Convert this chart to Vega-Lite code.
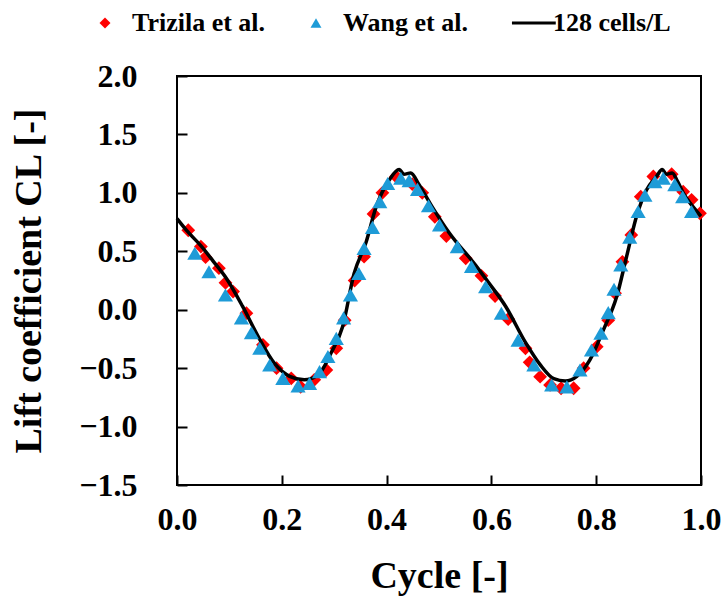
{
  "$schema": "https://vega.github.io/schema/vega-lite/v6.json",
  "width": 524,
  "height": 409,
  "autosize": {"type": "none"},
  "padding": {"left": 177, "top": 76, "right": 20, "bottom": 116},
  "background": "white",
  "config": {
    "view": {"stroke": "black", "strokeWidth": 2},
    "font": "Liberation Serif",
    "axis": {
      "grid": false,
      "domain": false,
      "offset": -10,
      "tickColor": "black",
      "tickWidth": 2,
      "tickSize": 10,
      "labelFlush": false,
      "labelFont": "Liberation Serif",
      "labelFontWeight": "bold",
      "labelFontSize": 32,
      "labelColor": "black",
      "titleFont": "Liberation Serif",
      "titleFontWeight": "bold",
      "titleFontSize": 38,
      "titleColor": "black"
    }
  },
  "datasets": {
    "pts": [
      {"series": "Trizila et al.", "cycle": 0.0215, "cl": 0.68},
      {"series": "Trizila et al.", "cycle": 0.0456, "cl": 0.54},
      {"series": "Trizila et al.", "cycle": 0.0545, "cl": 0.45},
      {"series": "Trizila et al.", "cycle": 0.080, "cl": 0.355},
      {"series": "Trizila et al.", "cycle": 0.0925, "cl": 0.23},
      {"series": "Trizila et al.", "cycle": 0.107, "cl": 0.155},
      {"series": "Trizila et al.", "cycle": 0.1325, "cl": -0.03},
      {"series": "Trizila et al.", "cycle": 0.164, "cl": -0.30},
      {"series": "Trizila et al.", "cycle": 0.19, "cl": -0.50},
      {"series": "Trizila et al.", "cycle": 0.218, "cl": -0.587},
      {"series": "Trizila et al.", "cycle": 0.236, "cl": -0.66},
      {"series": "Trizila et al.", "cycle": 0.262, "cl": -0.60},
      {"series": "Trizila et al.", "cycle": 0.285, "cl": -0.516},
      {"series": "Trizila et al.", "cycle": 0.304, "cl": -0.33},
      {"series": "Trizila et al.", "cycle": 0.32, "cl": -0.09},
      {"series": "Trizila et al.", "cycle": 0.339, "cl": 0.25},
      {"series": "Trizila et al.", "cycle": 0.357, "cl": 0.454},
      {"series": "Trizila et al.", "cycle": 0.375, "cl": 0.82},
      {"series": "Trizila et al.", "cycle": 0.392, "cl": 1.0},
      {"series": "Trizila et al.", "cycle": 0.418, "cl": 1.14},
      {"series": "Trizila et al.", "cycle": 0.449, "cl": 1.075},
      {"series": "Trizila et al.", "cycle": 0.468, "cl": 1.0},
      {"series": "Trizila et al.", "cycle": 0.492, "cl": 0.795},
      {"series": "Trizila et al.", "cycle": 0.514, "cl": 0.63},
      {"series": "Trizila et al.", "cycle": 0.551, "cl": 0.44},
      {"series": "Trizila et al.", "cycle": 0.581, "cl": 0.29},
      {"series": "Trizila et al.", "cycle": 0.607, "cl": 0.117},
      {"series": "Trizila et al.", "cycle": 0.632, "cl": -0.08},
      {"series": "Trizila et al.", "cycle": 0.665, "cl": -0.33},
      {"series": "Trizila et al.", "cycle": 0.673, "cl": -0.45},
      {"series": "Trizila et al.", "cycle": 0.693, "cl": -0.573},
      {"series": "Trizila et al.", "cycle": 0.712, "cl": -0.644},
      {"series": "Trizila et al.", "cycle": 0.733, "cl": -0.672},
      {"series": "Trizila et al.", "cycle": 0.757, "cl": -0.672},
      {"series": "Trizila et al.", "cycle": 0.776, "cl": -0.50},
      {"series": "Trizila et al.", "cycle": 0.801, "cl": -0.316},
      {"series": "Trizila et al.", "cycle": 0.823, "cl": -0.09},
      {"series": "Trizila et al.", "cycle": 0.836, "cl": 0.14},
      {"series": "Trizila et al.", "cycle": 0.85, "cl": 0.41},
      {"series": "Trizila et al.", "cycle": 0.867, "cl": 0.64},
      {"series": "Trizila et al.", "cycle": 0.885, "cl": 0.967},
      {"series": "Trizila et al.", "cycle": 0.909, "cl": 1.14},
      {"series": "Trizila et al.", "cycle": 0.944, "cl": 1.16},
      {"series": "Trizila et al.", "cycle": 0.966, "cl": 1.01},
      {"series": "Trizila et al.", "cycle": 0.982, "cl": 0.94},
      {"series": "Trizila et al.", "cycle": 0.998, "cl": 0.825},
      {"series": "Wang et al.", "cycle": 0.034, "cl": 0.483},
      {"series": "Wang et al.", "cycle": 0.061, "cl": 0.325},
      {"series": "Wang et al.", "cycle": 0.0925, "cl": 0.126},
      {"series": "Wang et al.", "cycle": 0.123, "cl": -0.07},
      {"series": "Wang et al.", "cycle": 0.142, "cl": -0.197},
      {"series": "Wang et al.", "cycle": 0.158, "cl": -0.33},
      {"series": "Wang et al.", "cycle": 0.177, "cl": -0.473},
      {"series": "Wang et al.", "cycle": 0.202, "cl": -0.587},
      {"series": "Wang et al.", "cycle": 0.231, "cl": -0.653},
      {"series": "Wang et al.", "cycle": 0.253, "cl": -0.63},
      {"series": "Wang et al.", "cycle": 0.272, "cl": -0.53},
      {"series": "Wang et al.", "cycle": 0.288, "cl": -0.40},
      {"series": "Wang et al.", "cycle": 0.304, "cl": -0.245},
      {"series": "Wang et al.", "cycle": 0.318, "cl": -0.07},
      {"series": "Wang et al.", "cycle": 0.331, "cl": 0.126},
      {"series": "Wang et al.", "cycle": 0.347, "cl": 0.31},
      {"series": "Wang et al.", "cycle": 0.357, "cl": 0.525},
      {"series": "Wang et al.", "cycle": 0.373, "cl": 0.705},
      {"series": "Wang et al.", "cycle": 0.387, "cl": 0.925},
      {"series": "Wang et al.", "cycle": 0.402, "cl": 1.08},
      {"series": "Wang et al.", "cycle": 0.427, "cl": 1.125},
      {"series": "Wang et al.", "cycle": 0.443, "cl": 1.105},
      {"series": "Wang et al.", "cycle": 0.459, "cl": 1.03},
      {"series": "Wang et al.", "cycle": 0.48, "cl": 0.89},
      {"series": "Wang et al.", "cycle": 0.501, "cl": 0.725},
      {"series": "Wang et al.", "cycle": 0.535, "cl": 0.54},
      {"series": "Wang et al.", "cycle": 0.562, "cl": 0.37},
      {"series": "Wang et al.", "cycle": 0.589, "cl": 0.197},
      {"series": "Wang et al.", "cycle": 0.619, "cl": -0.03},
      {"series": "Wang et al.", "cycle": 0.651, "cl": -0.26},
      {"series": "Wang et al.", "cycle": 0.681, "cl": -0.473},
      {"series": "Wang et al.", "cycle": 0.715, "cl": -0.644},
      {"series": "Wang et al.", "cycle": 0.744, "cl": -0.66},
      {"series": "Wang et al.", "cycle": 0.769, "cl": -0.516},
      {"series": "Wang et al.", "cycle": 0.791, "cl": -0.345},
      {"series": "Wang et al.", "cycle": 0.809, "cl": -0.20},
      {"series": "Wang et al.", "cycle": 0.823, "cl": -0.025},
      {"series": "Wang et al.", "cycle": 0.834, "cl": 0.175},
      {"series": "Wang et al.", "cycle": 0.847, "cl": 0.383},
      {"series": "Wang et al.", "cycle": 0.864, "cl": 0.62},
      {"series": "Wang et al.", "cycle": 0.88, "cl": 0.84},
      {"series": "Wang et al.", "cycle": 0.893, "cl": 0.98},
      {"series": "Wang et al.", "cycle": 0.912, "cl": 1.095},
      {"series": "Wang et al.", "cycle": 0.928, "cl": 1.125},
      {"series": "Wang et al.", "cycle": 0.95, "cl": 1.07},
      {"series": "Wang et al.", "cycle": 0.965, "cl": 0.967},
      {"series": "Wang et al.", "cycle": 0.982, "cl": 0.84}
    ],
    "sim": [
      {"cycle": 0.0, "cl": 0.78},
      {"cycle": 0.02, "cl": 0.67},
      {"cycle": 0.045, "cl": 0.55},
      {"cycle": 0.07, "cl": 0.41},
      {"cycle": 0.0925, "cl": 0.28},
      {"cycle": 0.125, "cl": 0.03},
      {"cycle": 0.155, "cl": -0.23},
      {"cycle": 0.186, "cl": -0.46},
      {"cycle": 0.215, "cl": -0.57},
      {"cycle": 0.243, "cl": -0.6},
      {"cycle": 0.269, "cl": -0.56},
      {"cycle": 0.294, "cl": -0.37},
      {"cycle": 0.316, "cl": -0.145},
      {"cycle": 0.338, "cl": 0.31},
      {"cycle": 0.361, "cl": 0.58},
      {"cycle": 0.38, "cl": 0.88},
      {"cycle": 0.405, "cl": 1.11},
      {"cycle": 0.424, "cl": 1.2},
      {"cycle": 0.433, "cl": 1.16},
      {"cycle": 0.446, "cl": 1.17},
      {"cycle": 0.462, "cl": 1.07},
      {"cycle": 0.487, "cl": 0.88},
      {"cycle": 0.519, "cl": 0.66},
      {"cycle": 0.57, "cl": 0.38},
      {"cycle": 0.595, "cl": 0.23},
      {"cycle": 0.627, "cl": 0.03},
      {"cycle": 0.665, "cl": -0.28},
      {"cycle": 0.693, "cl": -0.47},
      {"cycle": 0.719, "cl": -0.59},
      {"cycle": 0.741, "cl": -0.61},
      {"cycle": 0.763, "cl": -0.57},
      {"cycle": 0.788, "cl": -0.43},
      {"cycle": 0.814, "cl": -0.17},
      {"cycle": 0.839, "cl": 0.11},
      {"cycle": 0.858, "cl": 0.455},
      {"cycle": 0.877, "cl": 0.8},
      {"cycle": 0.896, "cl": 1.025},
      {"cycle": 0.915, "cl": 1.14},
      {"cycle": 0.926, "cl": 1.2},
      {"cycle": 0.934, "cl": 1.16},
      {"cycle": 0.945, "cl": 1.17},
      {"cycle": 0.955, "cl": 1.1},
      {"cycle": 0.966, "cl": 1.0},
      {"cycle": 0.985, "cl": 0.88},
      {"cycle": 1.0, "cl": 0.8}
    ]
  },
  "encoding": {
    "x": {
      "field": "cycle", "type": "quantitative",
      "scale": {"domain": [0, 1], "nice": false, "zero": false},
      "axis": {"values": [0, 0.2, 0.4, 0.6, 0.8, 1.0], "format": ".1f", "title": "Cycle [-]", "labelPadding": 19, "titlePadding": 22}
    },
    "y": {
      "field": "cl", "type": "quantitative",
      "scale": {"domain": [-1.5, 2], "nice": false, "zero": false},
      "axis": {"values": [-1.5, -1, -0.5, 0, 0.5, 1, 1.5, 2], "format": ".1f", "title": "Lift coefficient CL [-]", "labelPadding": 40, "titlePadding": 30}
    }
  },
  "layer": [
    {
      "data": {"name": "pts"},
      "transform": [{"filter": "datum.series === 'Trizila et al.'"}],
      "mark": {"type": "point", "filled": true, "opacity": 1, "size": 190},
      "encoding": {
        "color": {
          "field": "series", "type": "nominal",
          "scale": {"domain": ["Trizila et al.", "Wang et al.", "128 cells/L"], "range": ["#ff0000", "#1e9bd7", "#000000"]},
          "legend": {
            "orient": "none", "direction": "horizontal", "legendX": -85, "legendY": -66,
            "title": null, "padding": 0, "columnPadding": 37, "symbolSize": 120,
            "labelFont": "Liberation Serif", "labelFontWeight": "bold", "labelFontSize": 26, "labelColor": "black", "labelOffset": 14, "labelLimit": 400,
            "symbolOpacity": 1,
            "encode": {
              "symbols": {"update": {
                "stroke": {"value": "black"},
                "strokeWidth": {"signal": "datum.value === '128 cells/L' ? 3 : 0"}
              }},
              "labels": {"update": {
                "dx": {"signal": "datum.value === '128 cells/L' ? 2 : 0"}
              }}
            }
          }
        },
        "shape": {
          "field": "series", "type": "nominal",
          "scale": {"domain": ["Trizila et al.", "Wang et al.", "128 cells/L"], "range": ["diamond", "triangle-up", "M -2.2 0 L 5.8 0"]}
        }
      }
    },
    {
      "data": {"name": "sim"},
      "mark": {"type": "line", "color": "black", "strokeWidth": 3.5, "interpolate": "monotone"},
      "encoding": {}
    },
    {
      "data": {"name": "pts"},
      "transform": [{"filter": "datum.series === 'Wang et al.'"}],
      "mark": {"type": "point", "filled": true, "opacity": 1, "size": 230},
      "encoding": {
        "color": {"field": "series", "type": "nominal"},
        "shape": {"field": "series", "type": "nominal"}
      }
    }
  ]
}
